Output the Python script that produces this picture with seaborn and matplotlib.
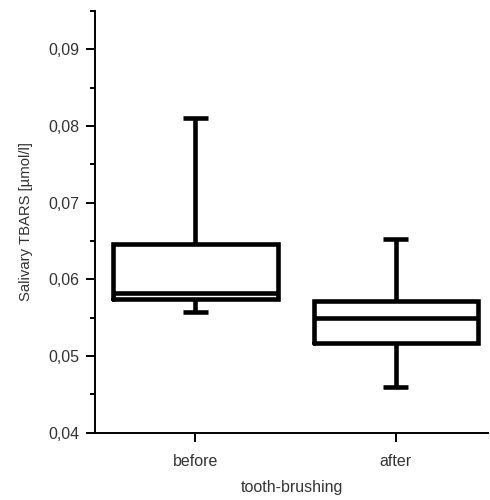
import pandas as pd
import numpy as np
import matplotlib
matplotlib.use("Agg")
import matplotlib.pyplot as plt
from matplotlib.ticker import MultipleLocator, FuncFormatter
import seaborn as sns

# values: min, Q1, median, Q3, max
groups = ["before", "after"]
before_vals = [0.0558, 0.0574, 0.0582, 0.0646, 0.0811]
after_vals = [0.0460, 0.0517, 0.0550, 0.0572, 0.0653]
y_ticks = [0.04, 0.05, 0.06, 0.07, 0.08, 0.09]

df = pd.DataFrame({
    "group": ["before"] * len(before_vals) + ["after"] * len(after_vals),
    "tbars": before_vals + after_vals,
})

sns.set_style("ticks")
plt.rcParams["font.family"] = ["Liberation Sans", "DejaVu Sans"]

fig = plt.figure(figsize=(4.9, 5.0), dpi=100)
ax = fig.add_axes([0.194, 0.1346, 0.802, 0.8434])

lw = 3.3
line_kw = dict(color="black", linewidth=lw, solid_capstyle="butt")
sns.boxplot(data=df, x="group", y="tbars", order=groups, ax=ax,
            whis=(0, 100), width=0.82, fill=False, color="black",
            linewidth=lw, showfliers=False,
            boxprops=dict(color="black", linewidth=lw, solid_joinstyle="miter"),
            medianprops=line_kw, whiskerprops=line_kw, capprops=line_kw)

# shorten the caps
for ln in ax.lines:
    xd = np.asarray(ln.get_xdata(), dtype=float)
    yd = np.asarray(ln.get_ydata(), dtype=float)
    if len(xd) == 2 and yd[0] == yd[1]:
        c = xd.mean()
        half = xd[1] - c
        if abs(abs(half) - 0.205) < 0.05:
            ln.set_xdata([c - 0.0625, c + 0.0625])

ax.set_ylim(0.04, 0.095)
ax.set_xlim(-0.5, 1.46)
ax.set_yticks(y_ticks)
ax.yaxis.set_minor_locator(MultipleLocator(0.005))
ax.yaxis.set_major_formatter(FuncFormatter(lambda v, p: f"{v:.2f}".replace(".", ",")))

sns.despine(ax=ax)
for s in ["left", "bottom"]:
    ax.spines[s].set_linewidth(1.4)
    ax.spines[s].set_color("black")
ax.tick_params(axis="both", which="major", length=6.5, width=1.4, color="black",
               labelsize=11.5, labelcolor="#333333", pad=5)
ax.tick_params(axis="y", which="minor", length=3.6, width=1.4, color="black")
ax.tick_params(axis="x", which="major", pad=9)

ax.set_xlabel("tooth-brushing", fontsize=11.5, color="#333333", labelpad=8)
ax.set_ylabel("Salivary TBARS [µmol/l]", fontsize=10.7, color="#333333", labelpad=11)

fig.savefig("out.png", dpi=100)
